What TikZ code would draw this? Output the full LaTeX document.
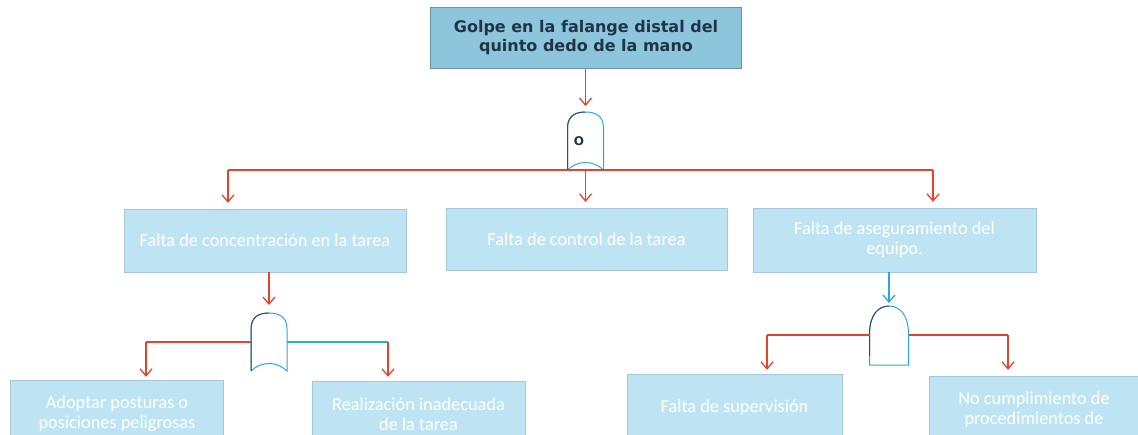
\documentclass[tikz,border=0pt]{standalone}
\usepackage{fontspec}
\setmainfont{Carlito}
\newfontfamily\verd{DejaVu Sans}
\usetikzlibrary{arrows.meta}
\definecolor{redl}{HTML}{E5442C}
\definecolor{bluel}{HTML}{2AA8E2}
\definecolor{topfill}{HTML}{8DC6DC}
\definecolor{boxfill}{HTML}{BEE4F4}
\definecolor{toptext}{HTML}{1E3545}
\definecolor{gatedark}{HTML}{3A4A58}
\begin{document}
\begin{tikzpicture}[x=1pt,y=-1pt,
  box/.style={fill=boxfill, draw=boxfill!88!black, line width=0.4pt, text=white,
    font=\fontsize{18.3}{20}\selectfont, align=center, inner sep=0pt},
  topbox/.style={fill=topfill, draw=topfill!75!black, line width=0.5pt, text=toptext,
    font=\verd\bfseries\fontsize{16}{19}\selectfont, align=center, inner sep=0pt,
    minimum width=311pt, minimum height=61pt},
  rline/.style={draw=redl, line width=1.2pt},
  bline/.style={draw=bluel, line width=1.2pt},
  rarr/.style={rline, -{Straight Barb[length=7pt,width=12pt,line width=1.3pt]}},
  barr/.style={bline, -{Straight Barb[length=7pt,width=12pt,line width=1.3pt]}},
  gateline/.style={draw=bluel, line width=1pt},
  gatedk/.style={draw=gatedark, line width=1pt},
  orgate/.pic={
    \draw[gateline] (-18,58) -- (-18,16) .. controls (-18,3) and (-9,0) .. (0,0)
      .. controls (9,0) and (18,3) .. (18,16) -- (18,58)
      .. controls (8,48) and (-8,48) .. (-18,58);
    \draw[gatedk] (-18,58) -- (-18,16) .. controls (-18,3) and (-9,0) .. (0,0);
  },
  andgate/.pic={
    \draw[gateline] (-19.5,59) -- (-19.5,28) .. controls (-19.5,8) and (-10,0) .. (0,0)
      .. controls (10,0) and (19.5,8) .. (19.5,28) -- (19.5,59) -- cycle;
    \draw[gatedk] (-19.5,50) -- (-19.5,28) .. controls (-19.5,8) and (-10,0) .. (0,0);
  }
]
\useasboundingbox (0,0) rectangle (1138,434);
\clip (0,0) rectangle (1138,434);

% boxes
\node[topbox] (T) at (586,38) {Golpe en la falange distal del\\quinto dedo de la mano};
\node[box, minimum width=282pt, minimum height=63pt] (A) at (265,240.5) {Falta de concentración en la tarea};
\node[box, minimum width=281pt, minimum height=62pt] (B) at (586.5,239) {Falta de control de la tarea};
\node[box, minimum width=283pt, minimum height=64pt] (C) at (894.5,240) {Falta de aseguramiento del\\equipo.};
\node[box, minimum width=213pt, minimum height=68pt] (D) at (117,414) {Adoptar posturas o\\posiciones peligrosas};
\node[box, minimum width=213pt, minimum height=66pt] (E) at (418.5,414) {Realización inadecuada\\de la tarea};
\node[box, minimum width=215pt, minimum height=68pt] (F) at (734.5,408) {Falta de supervisión};
\node[box, minimum width=210pt, minimum height=68pt] (G) at (1034,410) {No cumplimiento de\\procedimientos de};

% gates
\coordinate (g1) at (585.5,112);
\coordinate (g2) at (269,313);
\coordinate (g3) at (889,306);
\pic at (g1) {orgate};
\pic at (g2) {orgate};
\pic at (g3) {andgate};
\node[font=\verd\bfseries\fontsize{12}{14}\selectfont, text=toptext, inner sep=0pt] (Olab) at (579,141) {O};

% top level connectors
\coordinate (j1) at (585.5,170);
\coordinate (jL) at (228,170);
\coordinate (jR) at (933,170);
\draw[rarr, shorten >=6pt] (T.south -| g1) -- (g1);
\draw[rline] (jL) -- (jR);
\draw[rarr, shorten >=6pt] (jL) -- (jL |- A.north);
\draw[rarr, shorten >=6pt] (j1) -- (j1 |- B.north);
\draw[rarr, shorten >=6pt] (jR) -- (jR |- C.north);

% left gate
\coordinate (g2l) at (251,342);
\coordinate (g2r) at (287,342);
\coordinate (dL) at (146,342);
\coordinate (eR) at (388,342);
\draw[rarr, shorten >=8pt] (A.south -| g2) -- (g2);
\draw[rline] (g2l) -- (dL);
\draw[bline] (g2r) -- (eR);
\draw[rarr, shorten >=3pt] (dL) -- (dL |- D.north);
\draw[rarr, shorten >=4pt] (eR) -- (eR |- E.north);

% right gate
\coordinate (g3l) at (869.5,335);
\coordinate (g3r) at (908.5,335);
\coordinate (fL) at (767,335);
\coordinate (gR) at (1008,335);
\draw[barr, shorten >=3pt] (C.south -| g3) -- (g3);
\draw[rline] (g3l) -- (fL);
\draw[rline] (g3r) -- (gR);
\draw[rarr, shorten >=4pt] (fL) -- (fL |- F.north);
\draw[rarr, shorten >=6pt] (gR) -- (gR |- G.north);
\end{tikzpicture}
\end{document}
